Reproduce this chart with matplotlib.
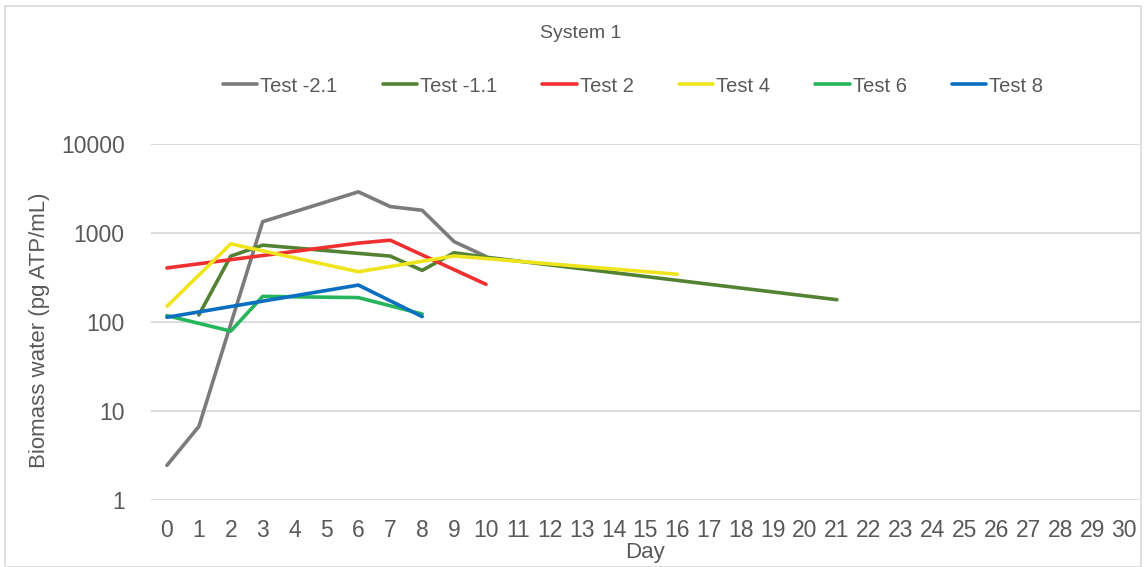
import matplotlib
matplotlib.use("Agg")
import matplotlib.pyplot as plt
from matplotlib.patches import Rectangle

plt.rcParams['font.family'] = ['Liberation Sans', 'DejaVu Sans']

# Sampling days and measured biomass (pg ATP/mL) per test
days_axis = list(range(31))

series_names = ["Test -2.1", "Test -1.1", "Test 2", "Test 4", "Test 6", "Test 8"]

t21_days = [0, 1, 3, 6, 7, 8, 9, 10]
t21_vals = [2.45, 6.7, 1340, 2900, 1980, 1800, 800, 545]

t11_days = [1, 2, 3, 7, 8, 9, 10, 21]
t11_vals = [120, 550, 730, 550, 380, 600, 535, 178]

t2_days = [0, 6, 7, 10]
t2_vals = [405, 770, 830, 265]

t4_days = [0, 2, 6, 9, 16]
t4_vals = [150, 755, 367, 552, 344]

t6_days = [0, 2, 3, 6, 8]
t6_vals = [118, 79, 194, 188, 123]

t8_days = [0, 6, 8]
t8_vals = [113, 260, 115]

series_days = [t21_days, t11_days, t2_days, t4_days, t6_days, t8_days]
series_vals = [t21_vals, t11_vals, t2_vals, t4_vals, t6_vals, t8_vals]
colors = ["#7b7b7b", "#548235", "#f03030", "#eee51e", "#25b55c", "#0a6fc0"]

text_color = "#595959"
grid_color = "#d9d9d9"

W, H = 1147, 567
fig = plt.figure(figsize=(W / 100, H / 100), dpi=100)

# outer chart frame
fig.patches.append(Rectangle((4.5 / W, 0), (1141 - 4.5) / W, 1 - 6 / H,
                             transform=fig.transFigure, fill=False,
                             edgecolor="#d9d9d9", linewidth=1.2))

ax = fig.add_axes([151 / W, 1 - 500 / H, (1140 - 151) / W, (500 - 144) / H])

for d, v, c, name in zip(series_days, series_vals, colors, series_names):
    ax.plot(d, v, color=c, linewidth=2.6, label=name,
            solid_capstyle="round", solid_joinstyle="round")

ax.set_yscale("log")
ax.set_ylim(1, 10000)
ax.set_xlim(-0.5, 30.5)
ax.set_yticks([1, 10, 100, 1000, 10000])
ax.set_yticklabels(["1", "10", "100", "1000", "10000"])
ax.minorticks_off()
ax.set_xticks(days_axis)
ax.set_xticklabels([str(d) for d in days_axis])

ax.grid(axis="y", color=grid_color, linewidth=1.3)
ax.set_axisbelow(True)
for s in ax.spines.values():
    s.set_visible(False)
ax.tick_params(axis="both", length=0, labelsize=16.5, labelcolor=text_color)
ax.tick_params(axis="y", pad=19)
ax.tick_params(axis="x", pad=14)

ax.set_ylabel("Biomass water (pg ATP/mL)", fontsize=16, color=text_color)
ax.yaxis.set_label_coords((50 - 151) / 989, (500 - 330) / 356)
ax.set_xlabel("Day", fontsize=16, color=text_color)
ax.xaxis.set_label_coords((645 - 151) / 989, (500 - 542) / 356)

fig.text(581 / W, 1 - 33 / H, "System 1", ha="center", va="center",
         fontsize=14, color=text_color)

leg = fig.legend(loc="center", bbox_to_anchor=(633 / W, 1 - 86 / H), ncol=6,
                 frameon=False, fontsize=14.5, handlelength=1.7,
                 handletextpad=0.15, columnspacing=2.25, labelcolor=text_color)
for line in leg.get_lines():
    line.set_linewidth(2.6)

fig.savefig("out.png", dpi=100)
